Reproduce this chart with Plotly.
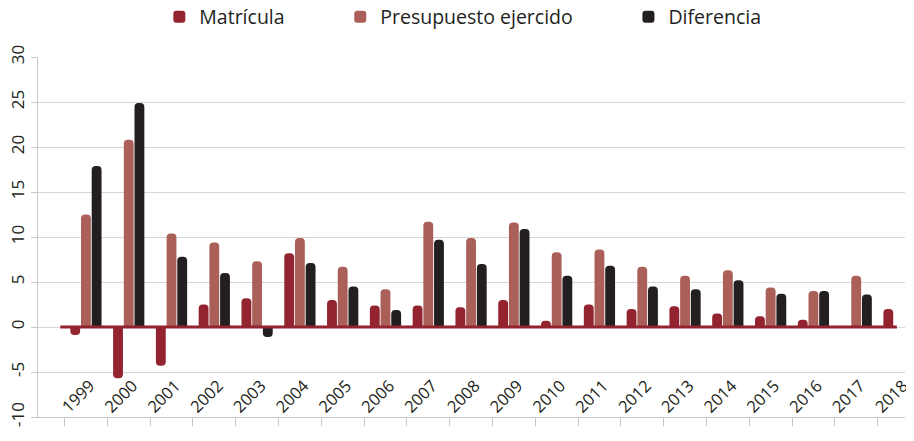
import plotly.graph_objects as go

years = ["1999", "2000", "2001", "2002", "2003", "2004", "2005", "2006", "2007", "2008",
         "2009", "2010", "2011", "2012", "2013", "2014", "2015", "2016", "2017", "2018"]

matricula = [-0.9, -5.7, -4.3, 2.5, 3.2, 8.2, 3.0, 2.4, 2.4, 2.2,
             3.0, 0.7, 2.5, 2.0, 2.3, 1.5, 1.2, 0.8, None, 2.0]
presupuesto = [12.5, 20.8, 10.4, 9.4, 7.3, 9.9, 6.7, 4.2, 11.7, 9.9,
               11.6, 8.3, 8.6, 6.7, 5.7, 6.3, 4.4, 4.0, 5.7, None]
diferencia = [17.9, 24.9, 7.8, 6.0, -1.1, 7.1, 4.5, 1.9, 9.7, 7.0,
              10.9, 5.7, 6.8, 4.5, 4.2, 5.2, 3.7, 4.0, 3.6, None]

y_tickvals = [-10, -5, 0, 5, 10, 15, 20, 25, 30]
y_ticktext = ["-10", "-5", "0", "5", "10", "15", "20", "25", "30"]

series_names = ["Matrícula", "Presupuesto ejercido", "Diferencia"]
colors = ["#92232f", "#ab5f59", "#231f20"]

FONT = "Open Sans"
pad = "\u00a0" * 10

fig = go.Figure()
for name, vals, col, p in zip(series_names, [matricula, presupuesto, diferencia], colors,
                              [pad, pad, ""]):
    fig.add_trace(go.Bar(x=years, y=vals, name=name + p, marker=dict(color=col, line=dict(width=0)),
                         xaxis="x", yaxis="y"))

# helper trace carrying categories for the label axis
fig.add_trace(go.Scatter(x=years, y=[None] * len(years), xaxis="x2", yaxis="y",
                         mode="markers", showlegend=False, hoverinfo="skip"))

# page body has an 8px default margin: figure is sized so the page fits the 914x441 window
W, H = 906, 425
xr = [-1.12, 19.14]
fig.update_layout(
    width=W, height=H,
    margin=dict(l=30, r=9, t=49, b=16, autoexpand=False),
    paper_bgcolor="white", plot_bgcolor="white",
    font=dict(family=FONT, color="#231f20"),
    barmode="group", bargap=0.25, bargroupgap=0.08, barcornerradius=5,
    showlegend=True,
    legend=dict(orientation="h", x=0.49, xanchor="center", xref="paper",
                y=1 - 9 / H, yanchor="middle", yref="container",
                font=dict(size=19.5, family=FONT, color="#231f20"), itemwidth=30,
                bgcolor="rgba(0,0,0,0)"),
    xaxis=dict(type="category", range=xr, showline=True, linecolor="#c8c8c8", linewidth=1.3,
               ticks="outside", tickson="boundaries", ticklen=8, tickcolor="#c8c8c8",
               showticklabels=False, showgrid=False, zeroline=False, automargin=False),
    xaxis2=dict(type="category", overlaying="x", anchor="free", position=0.125, range=xr,
                showline=False, ticks="", showgrid=False, zeroline=False, automargin=False,
                tickangle=-45, tickfont=dict(size=16.5, family=FONT, color="#231f20"),
                ticklabelshift=4, ticklabeloverflow="allow"),
    yaxis=dict(range=[-10, 30], tickvals=y_tickvals, ticktext=y_ticktext,
               showgrid=True, gridcolor="#d6d6d6",
               gridwidth=1.3, zeroline=False, showline=True, linecolor="#c8c8c8",
               linewidth=1.3, ticks="outside", ticklen=6, tickcolor="#c8c8c8",
               tickangle=-90, tickfont=dict(size=17, family=FONT, color="#231f20"),
               ticklabelstandoff=0, automargin=False),
    shapes=[dict(type="line", xref="x", yref="y", x0=-0.6, x1=18.95, y0=0, y1=0,
                 line=dict(color="#92232f", width=3), layer="above")],
)

fig.write_html("out.html")
